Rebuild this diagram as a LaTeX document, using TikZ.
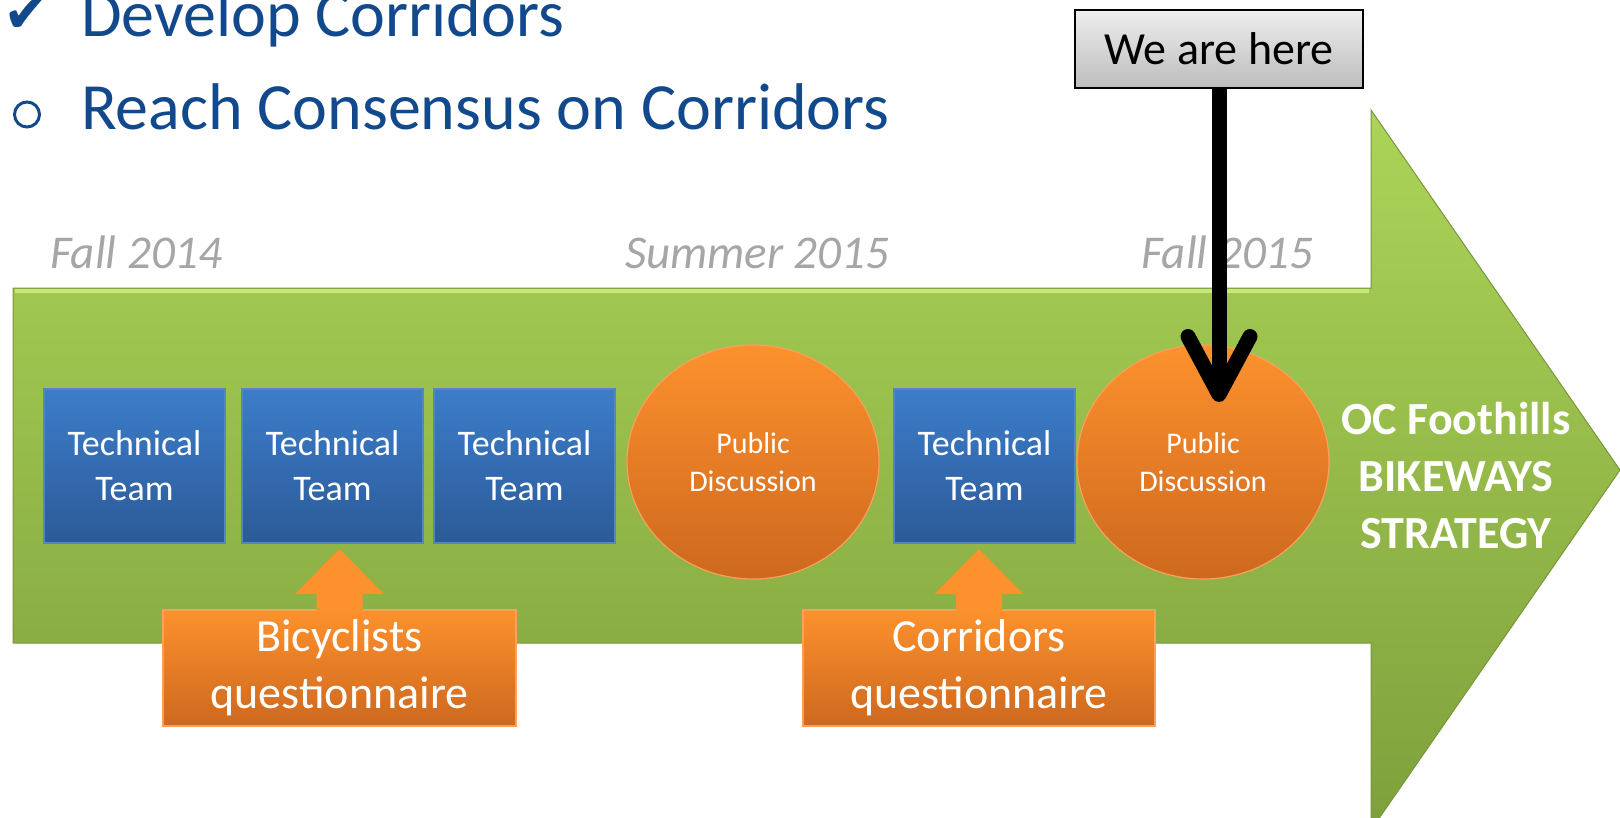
\documentclass[tikz,border=0pt]{standalone}
\usepackage{fontspec}
\setmainfont{Carlito}
\newfontfamily\symfont{DejaVu Sans}
\usetikzlibrary{positioning,shapes.geometric,arrows.meta}
\definecolor{titleblue}{RGB}{18,72,140}
\definecolor{seasongray}{RGB}{166,166,166}
\definecolor{greentop}{RGB}{172,212,88}
\definecolor{greenbot}{RGB}{126,160,60}
\definecolor{greenedge}{RGB}{120,150,60}
\definecolor{greenlight}{RGB}{200,232,120}
\definecolor{teamtop}{RGB}{60,125,202}
\definecolor{teambot}{RGB}{44,90,152}
\definecolor{teamedge}{RGB}{84,134,196}
\definecolor{orangetop}{RGB}{253,145,45}
\definecolor{orangebot}{RGB}{205,104,30}
\definecolor{orangeedge}{RGB}{250,160,90}
\definecolor{heretop}{RGB}{238,238,238}
\definecolor{herebot}{RGB}{188,188,188}
\newcommand\fsz[2]{\fontsize{#1}{#2}\selectfont}

\begin{document}
\begin{tikzpicture}[x=1pt, y=-1pt, every node/.style={inner sep=0pt, outer sep=0pt},
     teambox/.style={rectangle, draw=teamedge, line width=1.5pt, top color=teamtop, bottom color=teambot,
       minimum width=181pt, minimum height=154pt, text=white, align=center, font=\fsz{36}{45}},
     talk/.style={ellipse, draw=orangeedge, line width=1.2pt, top color=orangetop, bottom color=orangebot,
       minimum width=252pt, minimum height=234pt, text=white, align=center, font=\fsz{30}{38}},
     survey/.style={rectangle, draw=orangeedge, line width=1.5pt, top color=orangetop, bottom color=orangebot,
       minimum height=116pt, text=white, align=center, font=\fsz{46}{57}},
     uparrow/.style={fill=orangetop},
     season/.style={anchor=base west, text=seasongray, font=\itshape\fsz{47}{56}},
     herebox/.style={rectangle, draw=black, line width=1.5pt, top color=heretop, bottom color=herebot,
       minimum width=288pt, minimum height=78pt, font=\fsz{46}{50}},
     herearrow/.style={line width=15pt, -{Straight Barb[length=58pt, width=62pt, round]}}]

   \useasboundingbox (0,0) rectangle (1620,817);
   \clip (0,0) rectangle (1620,817);

   % the big timeline arrow
   \path[top color=greentop, bottom color=greenbot, draw=greenedge, line width=1pt]
     (13,288) -- (1371,288) -- (1371,110) -- (1620,470) -- (1371,830) -- (1371,643) -- (13,643) -- cycle;
   \draw[greenlight, line width=4pt] (15,291) -- (1369,291);

   % steps
   \node[anchor=base west, text=titleblue, font=\fsz{66}{70}] (done) at (81,36) {Develop Corridors};
   \node[anchor=base west, text=titleblue, font=\fsz{66}{70}] (todo) at (81,129) {Reach Consensus on Corridors};
   \node[anchor=base, text=titleblue, font=\symfont\fsz{56}{60}] (tick) at (27,32) {✔};
   \draw[titleblue, line width=3pt] (27,114.5) ellipse [x radius=12.5, y radius=12.5];

   \node[season] (fall14) at (50,268) {Fall 2014};
   \node[season] (summer15) at (625,268) {Summer 2015};
   \node[season] (fall15) at (1141,268) {Fall 2015};

   \node[teambox] (tt1) at (134.5,466) {Technical\\Team};
   \node[teambox, right=17pt of tt1] (tt2) {Technical\\Team};
   \node[teambox, right=11pt of tt2] (tt3) {Technical\\Team};
   \node[talk, right=12pt of tt3, yshift=4pt] (pd1) {Public\\Discussion};
   \node[teambox, right=15pt of pd1, yshift=-4pt] (tt4) {Technical\\Team};
   \node[talk, right=2pt of tt4, yshift=4pt] (pd2) {Public\\Discussion};

   \node[text=white, align=center, font=\bfseries\fsz{46}{57}] (goal) at (1456,476) {OC Foothills\\BIKEWAYS\\STRATEGY};

   \node[survey, minimum width=353pt] (bq) at (339.5,668) {Bicyclists\\questionnaire};
   \node[survey, minimum width=352pt] (cq) at (979,668) {Corridors\\questionnaire};
   \foreach \q in {bq,cq}
     \fill[uparrow] (\q.north) ++(-23,1) -- ++(0,-17) -- ++(-21.5,0) -- ++(44.5,-45) -- ++(44.5,45) -- ++(-21.5,0) -- ++(0,17) -- cycle;

   % we are here
   \node[herebox] (here) at (1219,49) {We are here};
   \coordinate (herept) at (1219,402);
   \draw[herearrow] (here.south) -- (herept);
\end{tikzpicture}
\end{document}
